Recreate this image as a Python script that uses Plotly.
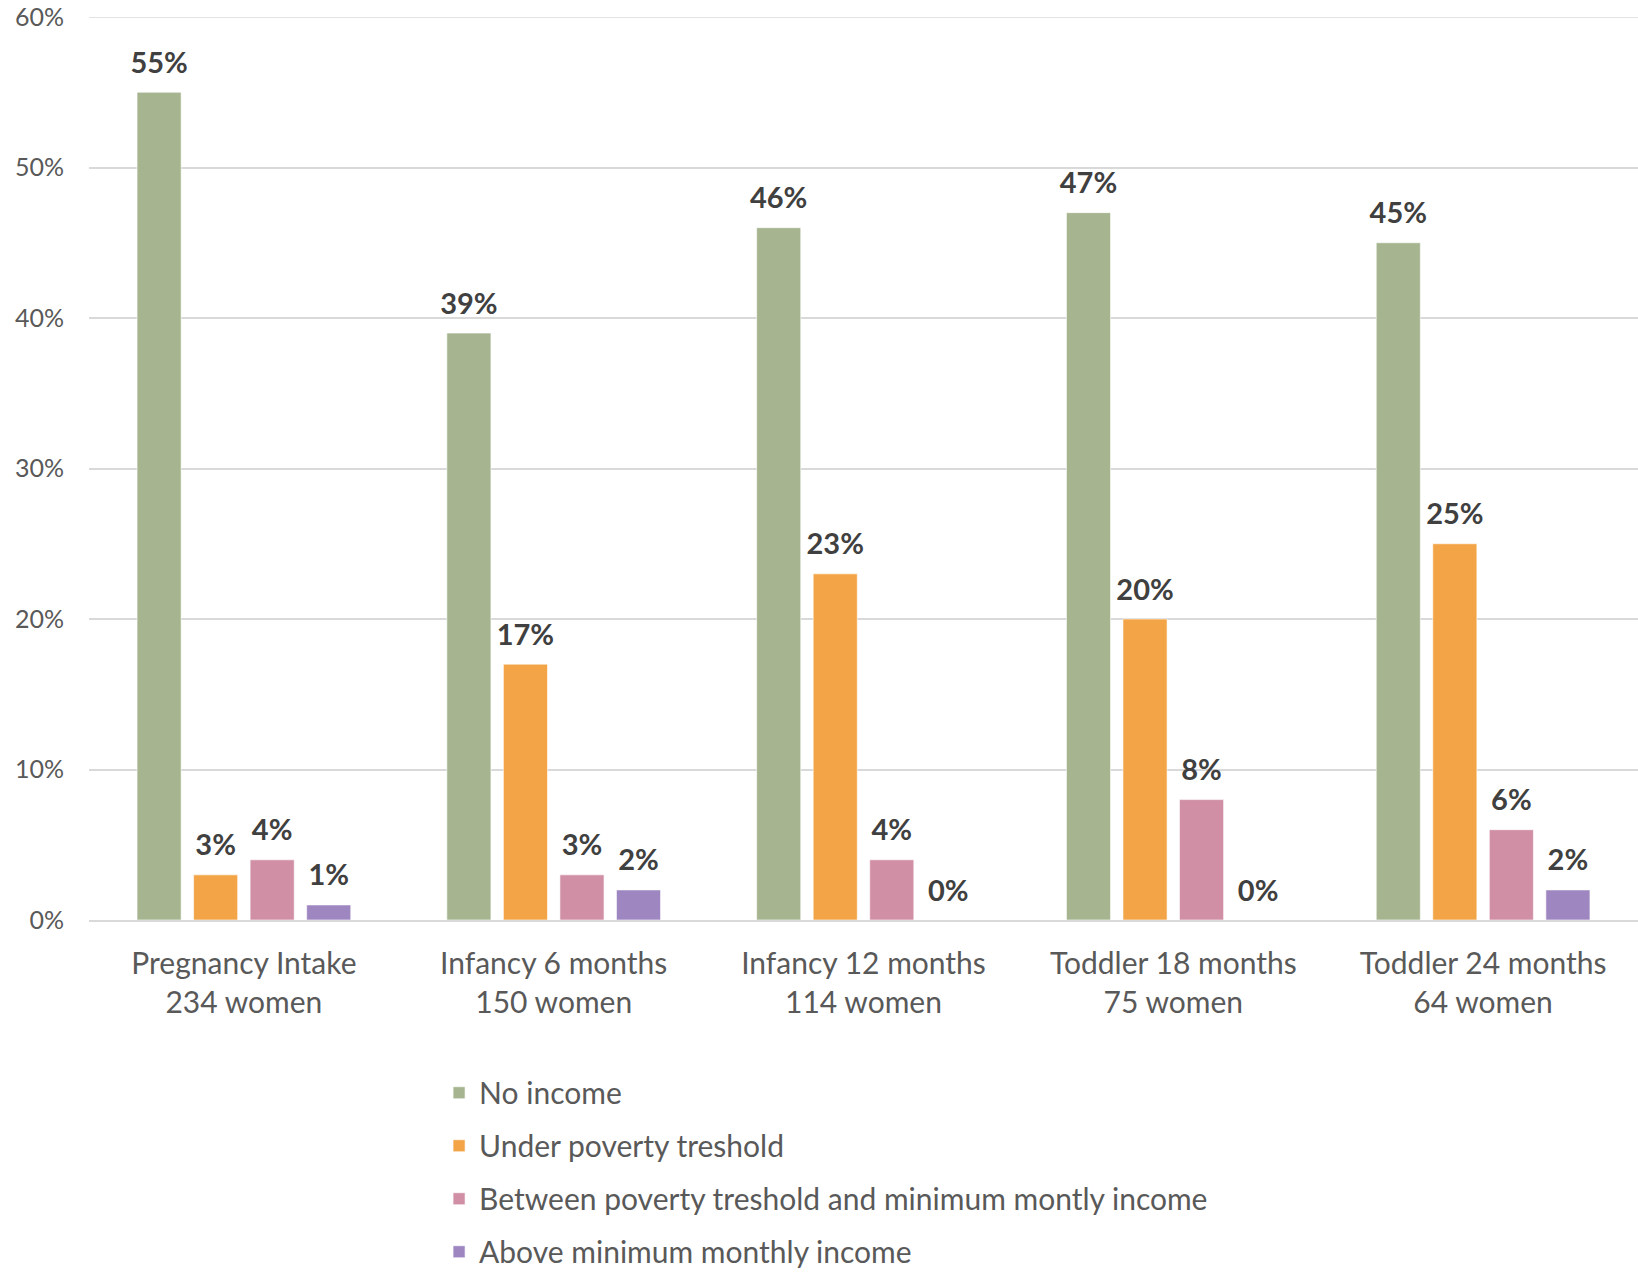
import plotly.graph_objects as go

categories = ["Pregnancy Intake<br>234 women", "Infancy 6 months<br>150 women",
              "Infancy 12 months<br>114 women", "Toddler 18 months<br>75 women",
              "Toddler 24 months<br>64 women"]
series_names = ["No income", "Under poverty treshold",
                "Between poverty treshold and minimum montly income",
                "Above minimum monthly income"]
no_income = [0.55, 0.39, 0.46, 0.47, 0.45]
under_poverty = [0.03, 0.17, 0.23, 0.20, 0.25]
between = [0.04, 0.03, 0.04, 0.08, 0.06]
above_min = [0.01, 0.02, 0.00, 0.00, 0.02]
colors = ["#A6B590", "#F2A446", "#D08FA4", "#9E86C1"]

FONT = "Lato"
GAP = 0.27
fig = go.Figure()
all_series = [no_income, under_poverty, between, above_min]
for i, (name, vals) in enumerate(zip(series_names, all_series)):
    fig.add_trace(go.Bar(
        x=categories, y=vals, name=name, legendgroup=f"g{i}",
        marker=dict(color=colors[i], line=dict(color="rgba(255,255,255,0.6)", width=1)),
        hoverinfo="skip",
    ))
for i, (name, vals) in enumerate(zip(series_names, all_series)):
    fig.add_trace(go.Scatter(
        x=categories, y=vals, mode="markers+text", showlegend=False,
        marker=dict(size=18, opacity=0),
        text=[f"{round(v*100)}%" for v in vals], textposition="top center",
        textfont=dict(family=FONT, size=29, color="#404040", weight="bold"),
        cliponaxis=False, hoverinfo="skip",
    ))

fig.update_layout(
    width=1638, height=1275,
    margin=dict(l=89, r=0, t=17, b=355, autoexpand=False),
    paper_bgcolor="white", plot_bgcolor="white",
    barmode="group", bargap=GAP, bargroupgap=0.22,
    scattermode="group", scattergap=GAP,
    font=dict(family=FONT, color="#595959"),
    showlegend=True,
    legend=dict(orientation="v", x=0.226, xanchor="left", y=-0.1625, yanchor="top",
                font=dict(family=FONT, size=30, color="#595959"),
                tracegroupgap=11, traceorder="grouped", maxheight=1),
    shapes=[dict(type="line", xref="paper", x0=0, x1=1, yref="y", y0=0.6, y1=0.6,
                 line=dict(color="#D9D9D9", width=1.5), layer="below")],
)
fig.update_xaxes(showgrid=False, showline=True, linecolor="#D9D9D9", linewidth=2,
                 tickfont=dict(family=FONT, size=30, color="#595959"), ticks="",
                 ticklabelstandoff=16)
fig.update_yaxes(range=[0, 0.6], dtick=0.1, tickformat=".0%", showgrid=True,
                 gridcolor="#D9D9D9", gridwidth=1.5, zeroline=False, showline=False,
                 tickfont=dict(family=FONT, size=25, color="#595959"),
                 ticklabelstandoff=24, ticklabeloverflow="allow")
fig.write_html("out.html", config={"displayModeBar": False},
               post_script="document.body.style.margin='0';document.body.style.overflow='hidden';")
